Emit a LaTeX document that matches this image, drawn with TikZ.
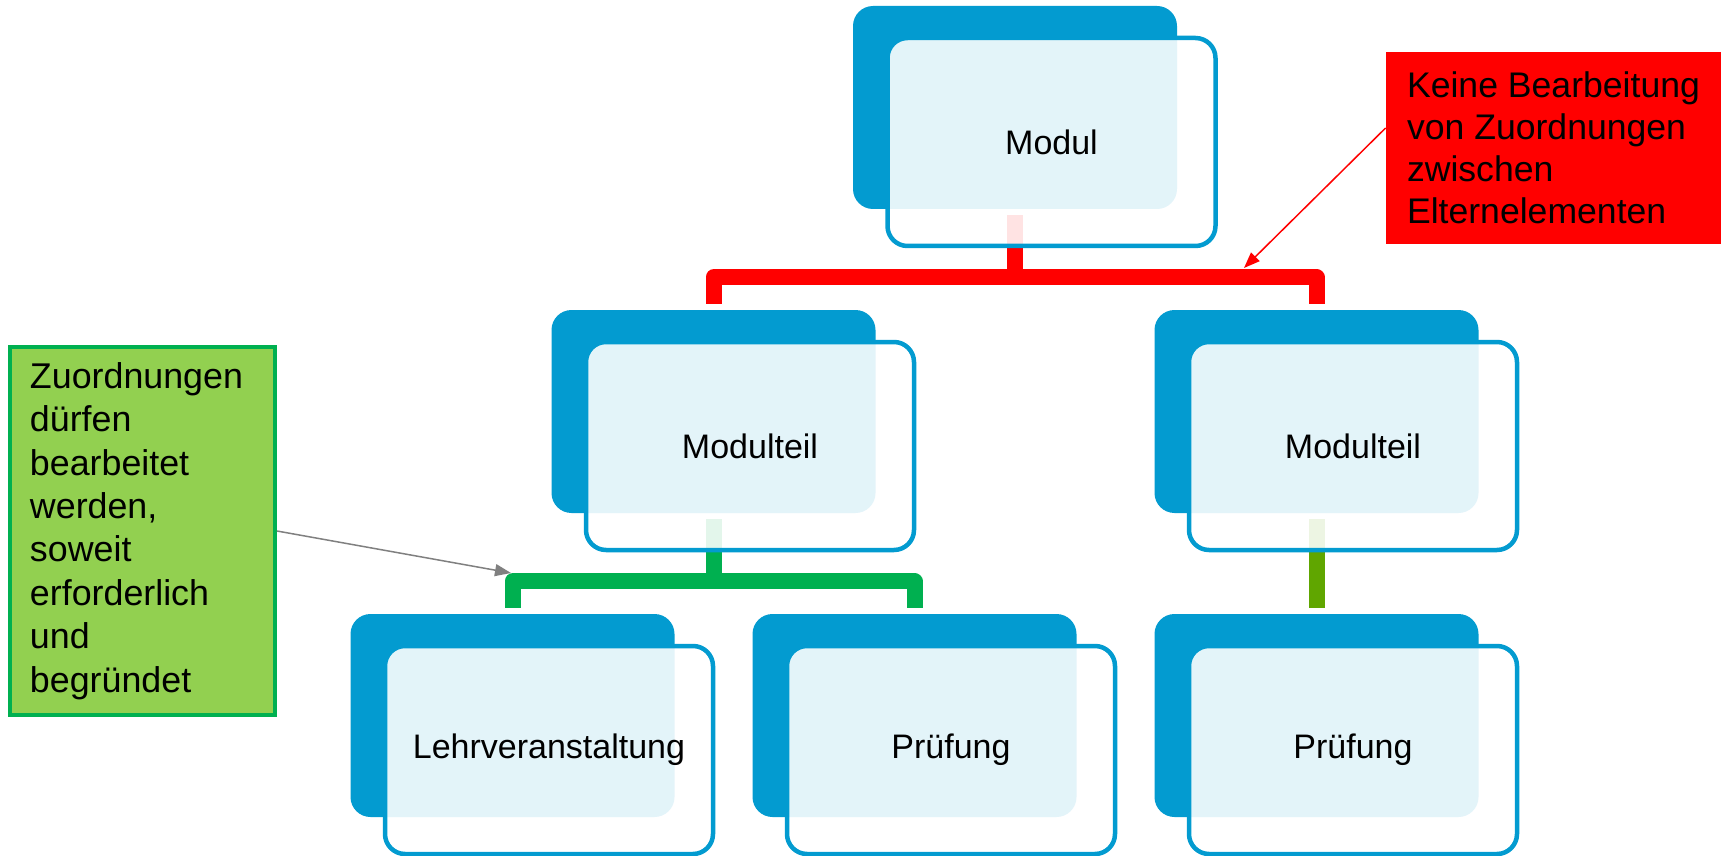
\documentclass[tikz,border=0pt]{standalone}
\usepackage{fontspec}
\setmainfont{Liberation Sans}
\usepackage{tikz}
\usetikzlibrary{backgrounds}
\usetikzlibrary{positioning,arrows.meta}

\definecolor{boxblue}{RGB}{3,155,208}
\definecolor{forkred}{RGB}{255,0,0}
\definecolor{forkgreen}{RGB}{0,176,80}
\definecolor{forkolive}{RGB}{96,166,0}
\definecolor{notegreen}{RGB}{146,208,80}
\definecolor{notegray}{RGB}{128,128,128}

\begin{document}
\begin{tikzpicture}[font=\fontsize{17pt}{20pt}\selectfont,
every node/.style={inner sep=0pt},
front/.style={draw=boxblue,line width=2.25pt,rounded corners=10pt,fill=white,fill opacity=0.89,text opacity=1,minimum width=164pt,minimum height=104pt},
back/.style={fill=boxblue,rounded corners=10pt,minimum width=162pt,minimum height=101.5pt},
fork/.style={line width=8pt,line join=round,shorten <=3pt,shorten >=3pt},
note/.style={align=left,font=\fontsize{17.8pt}{21pt}\selectfont},
pointer/.style={line width=0.75pt,-{Triangle[length=8pt,width=6pt]}},
edge from parent/.style={draw=none},
level distance=152pt,
level 1/.style={sibling distance=301.5pt},
level 2/.style={sibling distance=201pt}]
\useasboundingbox (0,0) rectangle (860.5pt,-428pt);

\node[front] (modul) at (525.75pt,-71pt) {Modul}
 child {node[front] (mtl) {Modulteil}
       child {node[front] (lv) {Lehrveranstaltung}}
       child {node[front] (pr1) {Prüfung}}
 }
 child {node[front] (mtr) {Modulteil}
       child {node[front] (pr2) {Prüfung}}
 };

% back boxes and forks behind the front boxes
\begin{scope}[on background layer]
\foreach \n in {modul,mtl,mtr,lv,pr1,pr2}
  \node[back] (\n-b) at ([shift={(-18.25pt,17.25pt)}]\n.center) {};
\draw[fork,forkred] (modul-b.south) -- ++(0,-34pt) -| (mtl-b.north);
\draw[fork,forkred] (modul-b.south) -- ++(0,-34pt) -| (mtr-b.north);
\draw[fork,forkgreen] (mtl-b.south) -- ++(0,-34pt) -| (lv-b.north);
\draw[fork,forkgreen] (mtl-b.south) -- ++(0,-34pt) -| (pr1-b.north);
\draw[fork,forkolive] (mtr-b.south) -- (pr2-b.north);
\end{scope}

% notes
\node[note,fill=forkred,minimum width=167.5pt,minimum height=96pt] (keine) at (776.75pt,-74pt)
 {Keine Bearbeitung\\von Zuordnungen\\zwischen\\Elternelementen};
\node[note,font=\fontsize{17.9pt}{21.7pt}\selectfont,draw=forkgreen,line width=2pt,fill=notegreen,
 text width=112.5pt,inner xsep=10pt,minimum height=184pt] (zuord) at (71.25pt,-265.5pt)
 {Zuordnungen\\dürfen\\bearbeitet\\werden,\\soweit\\erforderlich\\und\\begründet};

\coordinate (redtip) at (622pt,-134pt);
\coordinate (greentip) at (255.5pt,-286.5pt);
\draw[pointer,forkred] ([yshift=10pt]keine.west) -- (redtip);
\draw[pointer,notegray] (zuord.east) -- (greentip);
\end{tikzpicture}
\end{document}
